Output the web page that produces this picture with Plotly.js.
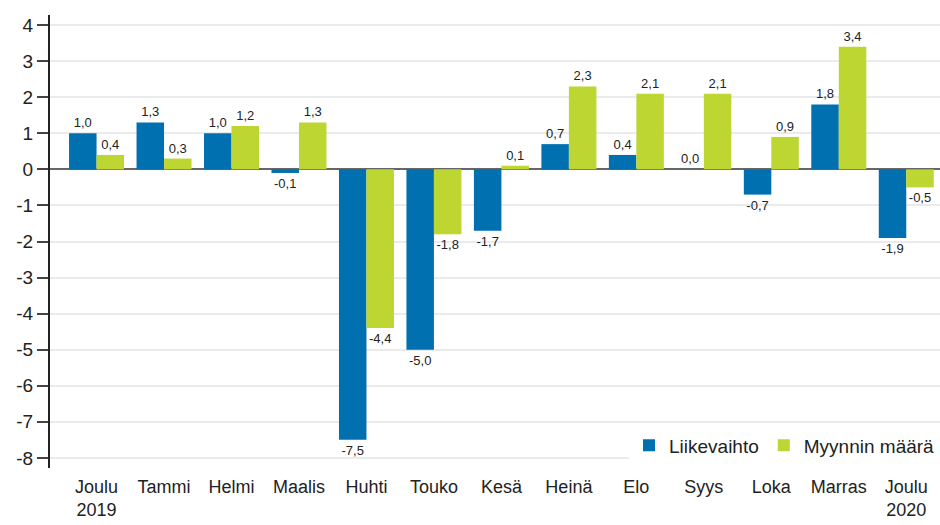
<!DOCTYPE html>
<html><head><meta charset="utf-8">
<script src="https://cdn.plot.ly/plotly-3.0.1.min.js"></script>
<style>html,body{margin:0;padding:0;background:#fff}#chart{width:940px;height:525px}</style>
</head><body><div id="chart"></div>
<script>
const categories = ["Joulu<br>2019","Tammi","Helmi","Maalis","Huhti","Touko","Kesä","Heinä","Elo","Syys","Loka","Marras","Joulu<br>2020"];
const liikevaihto = [1.0, 1.3, 1.0, -0.1, -7.5, -5.0, -1.7, 0.7, 0.4, 0.0, -0.7, 1.8, -1.9];
const myynninMaara = [0.4, 0.3, 1.2, 1.3, -4.4, -1.8, 0.1, 2.3, 2.1, 2.1, 0.9, 3.4, -0.5];
const yTicks = [4,3,2,1,0,-1,-2,-3,-4,-5,-6,-7,-8];

const fmt = v => v.toFixed(1).replace('.', ',');
const idx = categories.map((c,i)=>i);
const font = "Liberation Sans, Arial, sans-serif";

const traces = [
  {type:'bar', name:'Liikevaihto', x:idx, y:liikevaihto, marker:{color:'#0070b0'},
   text:liikevaihto.map(fmt), textposition:'outside', cliponaxis:false,
   textfont:{size:13, color:'#222', family:font}},
  {type:'bar', name:'Myynnin määrä', x:idx, y:myynninMaara, marker:{color:'#bdd631'},
   text:myynninMaara.map(fmt), textposition:'outside', cliponaxis:false,
   textfont:{size:13, color:'#222', family:font}}
];

const layout = {
  width:940, height:525,
  margin:{l:50, r:0, t:15, b:57},
  paper_bgcolor:'#fff', plot_bgcolor:'#fff',
  font:{family:font, color:'#222'},
  barmode:'group', bargap:0.185, bargroupgap:0,
  showlegend:true,
  legend:{orientation:'h', x:1, xanchor:'right', y:0.05, yanchor:'middle',
          bgcolor:'#fff', font:{size:19, color:'#222'}, itemwidth:30},
  xaxis:{range:[-0.69,12.5], tickvals:idx, ticktext:categories, showgrid:false,
         zeroline:false, showline:false, ticks:'', tickfont:{size:18, color:'#222'},
         ticklabelstandoff:6, fixedrange:true},
  yaxis:{range:[-8.28,4.28], tickvals:yTicks, ticktext:yTicks.map(v=>String(v)),
         showgrid:true, gridcolor:'#ebebeb', gridwidth:2,
         zeroline:true, zerolinecolor:'#666', zerolinewidth:2,
         showline:true, linecolor:'#222', linewidth:2,
         ticks:'outside', ticklen:11, tickwidth:2, tickcolor:'#444',
         tickfont:{size:19, color:'#222'}, fixedrange:true}
};
Plotly.newPlot('chart', traces, layout, {displayModeBar:false, staticPlot:true});
</script></body></html>
